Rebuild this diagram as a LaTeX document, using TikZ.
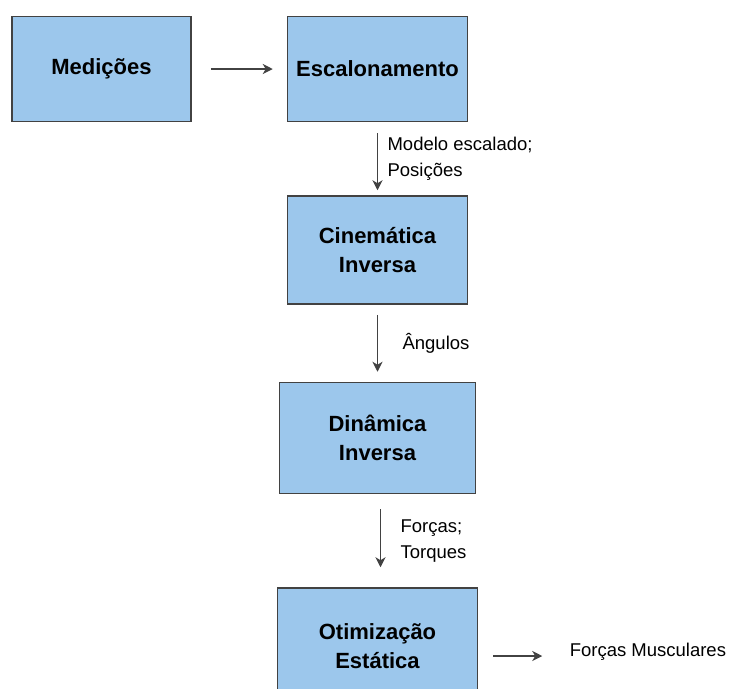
\documentclass[tikz,border=0pt]{standalone}
\usepackage{fontspec}
\setmainfont{Liberation Sans}
\usepackage{tikz}
\usetikzlibrary{arrows.meta,positioning}
\definecolor{boxblue}{RGB}{156,199,236}
\definecolor{edgegray}{RGB}{66,66,66}

\begin{document}
\begin{tikzpicture}[x=1pt,y=1pt,
          node distance=73pt,>={Stealth[length=10pt,width=10pt,inset=3pt]},
          block/.style={draw=edgegray,line width=1.5pt,fill=boxblue,
                        minimum width=180pt,minimum height=105pt,
                        align=center,font=\fontsize{22}{29}\selectfont\bfseries},
          lbl/.style={align=left,text=black,font=\fontsize{18.5}{26}\selectfont},
          flow/.style={->,line width=1.5pt,edgegray}]
        \useasboundingbox (0,0) rectangle (732,-689);
        \node[block,minimum width=179pt] (med) at (101.5,-69) {Medições};
        \node[block,right=95pt of med] (esc) {Escalonamento};
        \node[block,below=73pt of esc,minimum height=108pt] (cin) {Cinemática\\Inversa};
        \node[block,below=77pt of cin,minimum width=196pt,minimum height=111pt] (din) {Dinâmica\\Inversa};
        \node[block,below=93pt of din,minimum width=200pt,minimum height=116pt] (oti) {Otimização\\Estática};
        \node[lbl,right=88pt of oti,yshift=-6pt] (mus) {Forças Musculares};
        \draw[flow,shorten <=19pt,shorten >=14pt] (med) -- (esc);
        \draw[flow,shorten <=11pt,shorten >=5pt] (esc) --
          node[midway,right,lbl,xshift=6pt]{Modelo escalado;\\Posições} (cin);
        \draw[flow,shorten <=10pt,shorten >=10pt] (cin) --
          node[midway,right,lbl,xshift=21pt]{Ângulos} (din);
        \draw[flow,shorten <=15pt,shorten >=20pt] ([xshift=3pt]din.south) --
          node[midway,right,lbl,xshift=16pt]{Forças;\\Torques} ([xshift=3pt]oti.north);
        \draw[flow,shorten <=15pt,shorten >=24pt] ([yshift=-4pt]mus.west -| oti.east) -- ([yshift=-4pt]mus.west);
      \end{tikzpicture}
\end{document}
